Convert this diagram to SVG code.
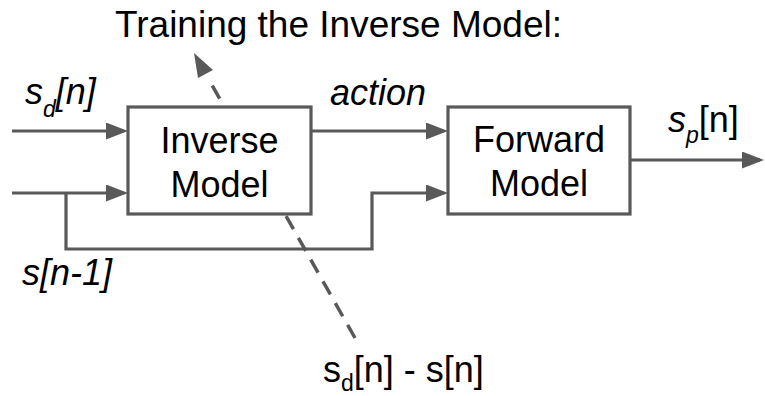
<svg xmlns="http://www.w3.org/2000/svg" width="765" height="396" viewBox="0 0 765 396">
<style>
text{font-family:"Liberation Sans",Arial,sans-serif;font-size:36px;fill:#000}
.it{font-style:italic}
.sub{font-size:23px}
.ln{fill:none;stroke:#595959;stroke-width:3.2}
.dash{fill:none;stroke:#595959;stroke-width:3.5;stroke-dasharray:15 10}
.box{fill:#fff;stroke:#595959;stroke-width:3.2}
.mid{text-anchor:middle}
</style>
<defs>
<marker id="ah" markerUnits="userSpaceOnUse" viewBox="0 0 22 17" refX="18" refY="8.5" markerWidth="22" markerHeight="17" orient="auto">
<path d="M0,0 L22,8.5 L0,17 z" fill="#595959"/>
</marker>
</defs>
<text x="115" y="37" style="font-size:37px">Training the Inverse Model:</text>
<g id="connectors">
<path class="dash" d="M355,338 L208,78"/>
<path d="M194,53 L213,70 L198,78 z" fill="#595959"/>
<path class="ln" d="M12,131 H124" marker-end="url(#ah)"/>
<path class="ln" d="M12,193 H124" marker-end="url(#ah)"/>
<path class="ln" d="M66,193 V249 H372 V193 H444" marker-end="url(#ah)"/>
<path class="ln" d="M311,131 H444" marker-end="url(#ah)"/>
<path class="ln" d="M630,160 H760" marker-end="url(#ah)"/>
</g>
<g id="inverse">
<rect class="box" x="128" y="107" width="183" height="107"/>
<text class="mid" x="219.5" y="153">Inverse</text>
<text class="mid" x="219.5" y="197">Model</text>
</g>
<g id="forward">
<rect class="box" x="448" y="107" width="182" height="107"/>
<text class="mid" x="539" y="152">Forward</text>
<text class="mid" x="539" y="196">Model</text>
</g>
<text class="it" x="25" y="104">s<tspan class="sub" dy="13">d</tspan><tspan dy="-13">[n]</tspan></text>
<text class="it" x="330" y="105">action</text>
<text x="668" y="132"><tspan class="it">s</tspan><tspan class="sub it" dy="11">p</tspan><tspan dy="-11">[n]</tspan></text>
<text class="it" x="22" y="285">s[n-1]</text>
<text x="323" y="382">s<tspan class="sub" dy="9">d</tspan><tspan dy="-9">[n] - s[n]</tspan></text>
</svg>
